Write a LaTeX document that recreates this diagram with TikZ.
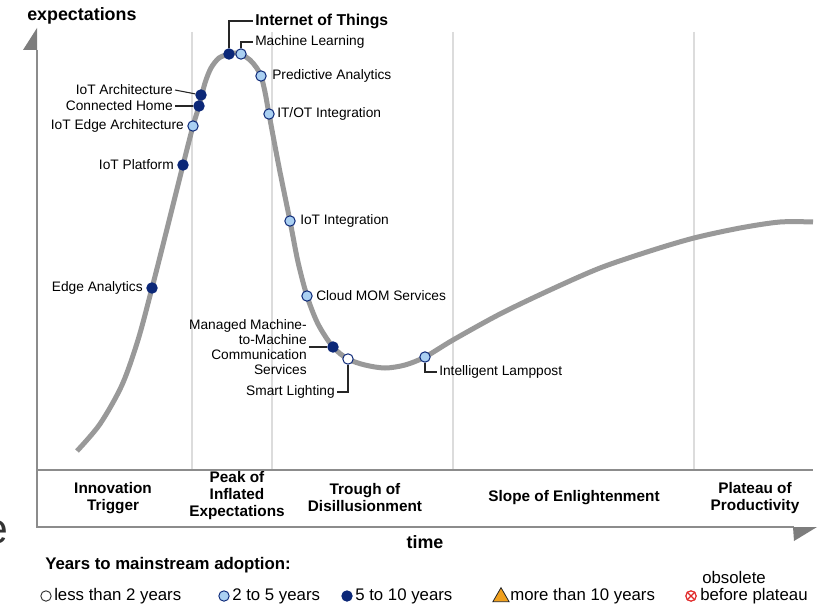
\documentclass[tikz,border=0pt]{standalone}
\usepackage{fontspec}
\setmainfont{Liberation Sans}
\usetikzlibrary{shapes.geometric}
\definecolor{navy}{RGB}{12,40,120}
\definecolor{lightb}{RGB}{170,208,242}
\definecolor{curvec}{RGB}{153,153,153}
\definecolor{gridc}{RGB}{220,220,220}
\definecolor{axisc}{RGB}{140,140,140}
\definecolor{arrowc}{RGB}{125,125,125}
\definecolor{orangec}{RGB}{240,160,30}
\definecolor{redc}{RGB}{225,40,40}
\newcommand\fLbl{\fontsize{10.3}{11.25}\selectfont}
\newcommand\fBig{\fontsize{11.8}{13}\bfseries\selectfont}
\newcommand\fAxis{\fontsize{13.4}{15}\bfseries\selectfont}
\newcommand\fPhase{\fontsize{11.5}{12.75}\bfseries\selectfont}
\newcommand\fLeg{\fontsize{12.6}{14}\selectfont}
\newcommand\fLegT{\fontsize{12.6}{14}\bfseries\selectfont}
\begin{document}
\begin{tikzpicture}[x=0.75pt,y=-0.75pt,
  lbl/.style={font=\fLbl, inner sep=1.5pt},
  dotbase/.style={circle, minimum size=7.8pt, inner sep=0pt, draw=navy, line width=0.75pt},
  dotdark/.style={dotbase, fill=navy},
  dotlight/.style={dotbase, fill=lightb},
  dotwhite/.style={dotbase, fill=white},
  leader/.style={draw=black!85, line width=0.8pt},
  gridline/.style={draw=gridc, line width=1.5pt},
  axisline/.style={draw=axisc, line width=1.1pt},
  hype/.style={draw=curvec, line width=3.75pt},
  phase/.style={font=\fPhase, align=center, inner sep=0pt},
  leg/.style={font=\fLeg, inner sep=1.5pt, anchor=west},
  legmark/.style={circle, minimum size=7.8pt, inner sep=0pt, line width=0.7pt}]
\useasboundingbox (0,0) rectangle (828,606);
\clip (0,0) rectangle (828,606);
\fill[white] (0,0) rectangle (828,606);

% fragment of a letter at the left edge, as in the reference
\node[font=\fontsize{32}{32}\selectfont, text=black!80, anchor=base east, inner sep=0pt] (frag) at (8.5,543) {e};

% grid lines
\foreach \gx in {192,272,453,694} \draw[gridline] (\gx,32) -- (\gx,470);

% axes and band
\draw[axisline] (37,50) -- (37,527) -- (794,527);
\draw[axisline] (37,470) -- (813,470);
\fill[arrowc] (37,28) -- (23,50) -- (37,50) -- cycle;
\fill[arrowc] (793,527) -- (817,527) -- (794,541) -- cycle;

\node[font=\fAxis, anchor=west, inner sep=1.5pt] (ylab) at (25,16) {expectations};
\node[font=\fAxis, inner sep=0pt] (xlab) at (425,542) {time};

% hype curve
\draw[hype] plot[smooth, tension=0.5] coordinates {
 (77,451) (100,424) (122,385) (138,340) (152,288) (168,225) (183,165) (193,126)
 (199,106) (205,83) (211,68) (219,58) (229,54) (235,53) (241,54) (250,60) (256,67)
 (261,76) (265,92) (269,114) (279,167) (290,221) (298,262) (307,296) (318,324)
 (333,347) (348,359) (365,365) (385,368) (405,365) (425,357) (453,340) (500,314)
 (550,290) (600,268) (650,251) (694,238) (740,228) (780,222) (813,222)};

% labels
\node[lbl, font=\fBig, anchor=west] (iotl) at (253,21) {Internet of Things};
\node[lbl, anchor=west] (mll) at (253,42) {Machine Learning};
\node[lbl, anchor=west] (pal) at (270,76) {Predictive Analytics};
\node[lbl, anchor=west] (itl) at (275,114) {IT/OT Integration};
\node[lbl, anchor=east] (archl) at (175,90) {IoT Architecture};
\node[lbl, anchor=east] (chl) at (175,106) {Connected Home};
\node[lbl, anchor=east] (edgel) at (186,126) {IoT Edge Architecture};
\node[lbl, anchor=east] (platl) at (176,165) {IoT Platform};
\node[lbl, anchor=east] (eanl) at (145,288) {Edge Analytics};
\node[lbl, anchor=west] (ioil) at (298,221) {IoT Integration};
\node[lbl, anchor=west] (cloudl) at (314,296) {Cloud MOM Services};
\node[lbl, anchor=east, align=right] (m2ml) at (309,347) {Managed Machine-\\to-Machine\\Communication\\Services};
\node[lbl, anchor=east] (smartl) at (337,392) {Smart Lighting};
\node[lbl, anchor=west] (lampl) at (437,372) {Intelligent Lamppost};

% dots
\node[dotdark] (iot) at (229,54) {};
\node[dotlight] (ml) at (241,54) {};
\node[dotlight] (pa) at (261,76) {};
\node[dotlight] (it) at (269,114) {};
\node[dotdark] (arch) at (201,95) {};
\node[dotdark] (ch) at (199,106) {};
\node[dotlight] (edge) at (193,126) {};
\node[dotdark] (plat) at (183,165) {};
\node[dotdark] (ean) at (152,288) {};
\node[dotlight] (ioi) at (290,221) {};
\node[dotlight] (cloud) at (307,296) {};
\node[dotdark] (m2m) at (333,347) {};
\node[dotwhite] (smart) at (348,359) {};
\node[dotlight] (lamp) at (425,357) {};

% leaders
\draw[leader] (iot) |- (iotl.west);
\draw[leader] (ml) |- (mll.west);
\draw[leader] (archl.east) -- (arch);
\draw[leader] (chl.east) -- (ch);
\draw[leader] (m2ml.east) -- (m2m);
\draw[leader] (smart) |- (smartl.east);
\draw[leader] (lamp) |- (lampl.west);

% phases
\node[phase] (ph1) at (113,498) {Innovation\\Trigger};
\node[phase] (ph2) at (237,496) {Peak of\\Inflated\\Expectations};
\node[phase] (ph3) at (365,498) {Trough of\\Disillusionment};
\node[phase] (ph4) at (574,498) {Slope of Enlightenment};
\node[phase] (ph5) at (755,498) {Plateau of\\Productivity};

% legend
\node[font=\fLegT, anchor=west, inner sep=1.5pt] (legt) at (43,565) {Years to mainstream adoption:};
\node[legmark, draw=black!80, fill=white] (m1) at (46,596) {};
\node[leg] (t1) at (52,596) {less than 2 years};
\node[legmark, draw=navy, fill=lightb] (m2) at (224,596) {};
\node[leg] (t2) at (230,596) {2 to 5 years};
\node[legmark, draw=navy, fill=navy] (m3) at (347,596) {};
\node[leg] (t3) at (353,596) {5 to 10 years};
\node[regular polygon, regular polygon sides=3, minimum size=14pt, inner sep=0pt, draw=black!85, line width=0.6pt, fill=orangec] (m4) at (501,597) {};
\node[leg] (t4) at (508,596) {more than 10 years};
\node[legmark, draw=redc, line width=0.9pt, fill=white] (m5) at (691,596) {};
\draw[redc, line width=0.9pt] (m5.north east) -- (m5.south west) (m5.north west) -- (m5.south east);
\node[leg] (t5) at (698,596) {before plateau};
\node[leg] (t6) at (700,577) {obsolete};
\end{tikzpicture}
\end{document}
